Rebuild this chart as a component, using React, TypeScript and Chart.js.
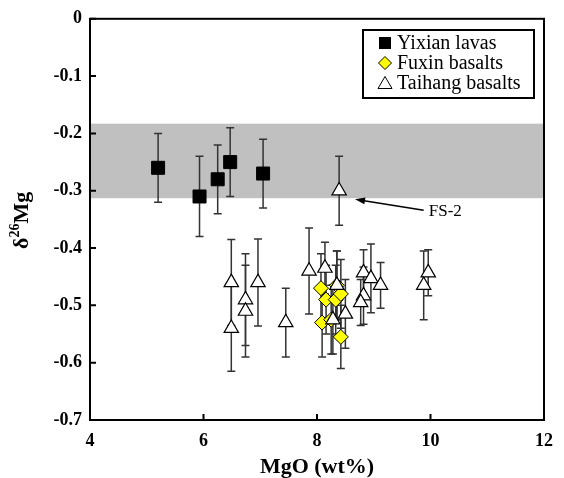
import React, { useEffect, useRef } from 'react';
import { Chart, registerables } from 'chart.js';

Chart.register(...registerables);

// ---- Data ----
const yixianMgO = [5.2, 5.93, 6.25, 6.47, 7.05];
const yixianD26Mg = [-0.26, -0.31, -0.28, -0.25, -0.27];
const yixianErr = [0.06, 0.07, 0.06, 0.06, 0.06];

const fuxinMgO = [8.07, 8.16, 8.33, 8.35, 8.42, 8.09, 8.25, 8.42];
const fuxinD26Mg = [-0.47, -0.49, -0.49, -0.465, -0.48, -0.53, -0.525, -0.555];
const fuxinErr = [0.06, 0.06, 0.06, 0.06, 0.06, 0.06, 0.06, 0.055];

const taihangMgO = [6.49, 6.49, 6.74, 6.74, 6.96, 7.45, 7.86, 8.14, 8.35, 8.28, 8.5, 8.82, 8.95, 9.12, 8.82, 8.77, 9.96, 9.88, 8.39];
const taihangD26Mg = [-0.46, -0.54, -0.49, -0.51, -0.46, -0.53, -0.44, -0.435, -0.465, -0.525, -0.515, -0.443, -0.453, -0.465, -0.483, -0.495, -0.443, -0.465, -0.3];
const taihangErr = [0.075, 0.075, 0.08, 0.08, 0.076, 0.06, 0.075, 0.045, 0.06, 0.06, 0.06, 0.04, 0.06, 0.04, 0.05, 0.04, 0.04, 0.06, 0.06];

const seriesLabels = ['Yixian lavas', 'Fuxin basalts', 'Taihang basalts'];
const xTicks = [4, 6, 8, 10, 12];
const yTicks = [0, -0.1, -0.2, -0.3, -0.4, -0.5, -0.6, -0.7];
const mantleBand = [-0.313, -0.183];
const fs2Label = 'FS-2';
const fs2ArrowTip = [8.67, -0.315];
const fs2ArrowTail = [9.88, -0.334];
const fs2TextPos = [9.97, -0.337];

const SERIF = '"Liberation Serif", "Times New Roman", serif';

function pts(xs: number[], ys: number[]) {
  return xs.map((x, i) => ({ x, y: ys[i] }));
}

const errs = [yixianErr, fuxinErr, taihangErr];

const customPlugin = {
  id: 'custom',
  beforeDatasetsDraw(chart: any) {
    const { ctx, chartArea, scales } = chart;
    const xs = scales.x, ys = scales.y;
    ctx.save();
    const yTop = ys.getPixelForValue(mantleBand[1]);
    const yBot = ys.getPixelForValue(mantleBand[0]);
    ctx.fillStyle = '#c0c0c0';
    ctx.fillRect(chartArea.left, yTop, chartArea.right - chartArea.left, yBot - yTop);
    ctx.strokeStyle = '#333333';
    ctx.lineWidth = 1.5;
    chart.data.datasets.forEach((ds: any, di: number) => {
      ds.data.forEach((p: any, i: number) => {
        const e = errs[di][i];
        const px = xs.getPixelForValue(p.x);
        const p1 = ys.getPixelForValue(p.y + e);
        const p2 = ys.getPixelForValue(p.y - e);
        ctx.beginPath();
        ctx.moveTo(px, p1);
        ctx.lineTo(px, p2);
        ctx.moveTo(px - 4, p1);
        ctx.lineTo(px + 4, p1);
        ctx.moveTo(px - 4, p2);
        ctx.lineTo(px + 4, p2);
        ctx.stroke();
      });
    });
    ctx.restore();
  },
  afterDraw(chart: any) {
    const { ctx, chartArea, scales } = chart;
    const xs = scales.x, ys = scales.y;
    const { left, right, top, bottom } = chartArea;
    ctx.save();
    ctx.strokeStyle = '#000';
    ctx.lineWidth = 2;
    ctx.strokeRect(left, top, right - left, bottom - top);
    ctx.beginPath();
    yTicks.forEach((v) => {
      const py = ys.getPixelForValue(v);
      ctx.moveTo(left, py);
      ctx.lineTo(left + 6, py);
    });
    xTicks.forEach((v) => {
      const px = xs.getPixelForValue(v);
      ctx.moveTo(px, bottom);
      ctx.lineTo(px, bottom - 6);
    });
    ctx.stroke();

    // arrow + label
    const tx = xs.getPixelForValue(fs2ArrowTip[0]);
    const ty = ys.getPixelForValue(fs2ArrowTip[1]);
    const sx = xs.getPixelForValue(fs2ArrowTail[0]);
    const sy = ys.getPixelForValue(fs2ArrowTail[1]);
    const ang = Math.atan2(ty - sy, tx - sx);
    ctx.lineWidth = 1.5;
    ctx.beginPath();
    ctx.moveTo(sx, sy);
    ctx.lineTo(tx - Math.cos(ang) * 6, ty - Math.sin(ang) * 6);
    ctx.stroke();
    ctx.fillStyle = '#000';
    ctx.beginPath();
    ctx.moveTo(tx, ty);
    ctx.lineTo(tx - Math.cos(ang) * 10 - Math.sin(ang) * 3.5, ty - Math.sin(ang) * 10 + Math.cos(ang) * 3.5);
    ctx.lineTo(tx - Math.cos(ang) * 10 + Math.sin(ang) * 3.5, ty - Math.sin(ang) * 10 - Math.cos(ang) * 3.5);
    ctx.closePath();
    ctx.fill();
    ctx.font = `17px ${SERIF}`;
    ctx.textAlign = 'left';
    ctx.textBaseline = 'middle';
    ctx.fillText(fs2Label, xs.getPixelForValue(fs2TextPos[0]), ys.getPixelForValue(fs2TextPos[1]));

    // legend
    const lx = 363, ly = 30, lw = 171, lh = 68;
    ctx.fillStyle = '#fff';
    ctx.fillRect(lx, ly, lw, lh);
    ctx.lineWidth = 2;
    ctx.strokeStyle = '#000';
    ctx.strokeRect(lx, ly, lw, lh);
    const rows = [43, 63, 83];
    const mx = 385;
    ctx.fillStyle = '#000';
    ctx.fillRect(mx - 6, rows[0] - 6, 12, 12);
    ctx.beginPath();
    ctx.moveTo(mx - 6.5, rows[1]);
    ctx.lineTo(mx, rows[1] - 6.5);
    ctx.lineTo(mx + 6.5, rows[1]);
    ctx.lineTo(mx, rows[1] + 6.5);
    ctx.closePath();
    ctx.fillStyle = '#ffff00';
    ctx.fill();
    ctx.lineWidth = 1;
    ctx.strokeStyle = '#000';
    ctx.stroke();
    ctx.beginPath();
    ctx.moveTo(mx, rows[2] - 6.5);
    ctx.lineTo(mx + 7, rows[2] + 5.5);
    ctx.lineTo(mx - 7, rows[2] + 5.5);
    ctx.closePath();
    ctx.fillStyle = '#fff';
    ctx.fill();
    ctx.stroke();
    ctx.fillStyle = '#000';
    ctx.font = `20px ${SERIF}`;
    ctx.textAlign = 'left';
    ctx.textBaseline = 'middle';
    seriesLabels.forEach((t, i) => ctx.fillText(t, 397, rows[i] + 1));

    // x title
    ctx.font = `bold 22px ${SERIF}`;
    ctx.textAlign = 'center';
    ctx.textBaseline = 'middle';
    ctx.fillText('MgO (wt%)', (left + right) / 2, 467);

    // y title with superscript
    ctx.translate(21, (top + bottom) / 2 + 1);
    ctx.rotate(-Math.PI / 2);
    const big = `bold 22px ${SERIF}`;
    const small = `bold 14px ${SERIF}`;
    ctx.font = big;
    const w1 = ctx.measureText('δ').width;
    const w3 = ctx.measureText('Mg').width;
    ctx.font = small;
    const w2 = ctx.measureText('26').width;
    let cx = -(w1 + w2 + w3) / 2;
    ctx.textAlign = 'left';
    ctx.textBaseline = 'alphabetic';
    const base = 7;
    ctx.font = big;
    ctx.fillText('δ', cx, base);
    cx += w1;
    ctx.font = small;
    ctx.fillText('26', cx, base - 9);
    cx += w2;
    ctx.font = big;
    ctx.fillText('Mg', cx, base);
    ctx.restore();
  },
};

export default function App() {
  const ref = useRef<HTMLCanvasElement | null>(null);
  useEffect(() => {
    document.body.style.margin = '0';
    const canvas = ref.current!;
    const chart = new Chart(canvas, {
      type: 'scatter',
      data: {
        datasets: [
          {
            label: seriesLabels[0],
            data: pts(yixianMgO, yixianD26Mg),
            pointStyle: 'rect',
            pointRadius: 9.2,
            backgroundColor: '#000',
            borderColor: '#000',
            borderWidth: 1,
            order: 3,
          },
          {
            label: seriesLabels[1],
            data: pts(fuxinMgO, fuxinD26Mg),
            pointStyle: 'rectRot',
            pointRadius: 7.5,
            backgroundColor: '#ffff00',
            borderColor: '#000',
            borderWidth: 1,
            order: 2,
          },
          {
            label: seriesLabels[2],
            data: pts(taihangMgO, taihangD26Mg),
            pointStyle: 'triangle',
            pointRadius: 8.3,
            backgroundColor: '#fff',
            borderColor: '#000',
            borderWidth: 1.2,
            order: 1,
          },
        ],
      },
      options: {
        responsive: false,
        animation: false,
        devicePixelRatio: 1,
        layout: { padding: { top: 18, right: 18, left: 0, bottom: 0 } },
        plugins: { legend: { display: false }, tooltip: { enabled: false } },
        scales: {
          x: {
            type: 'linear',
            min: 4,
            max: 12,
            afterFit: (s: any) => { s.height = 58; },
            afterBuildTicks: (s: any) => { s.ticks = xTicks.map((v) => ({ value: v })); },
            grid: { display: false, drawTicks: false },
            border: { display: false },
            ticks: {
              padding: 11,
              color: '#000',
              font: { family: SERIF, size: 18, weight: 'bold' },
              callback: (v: any) => String(v),
            },
          },
          y: {
            type: 'linear',
            min: -0.7,
            max: 0,
            afterFit: (s: any) => { s.width = 90; },
            afterBuildTicks: (s: any) => { s.ticks = yTicks.map((v) => ({ value: v })); },
            grid: { display: false, drawTicks: false },
            border: { display: false },
            ticks: {
              padding: 8,
              color: '#000',
              font: { family: SERIF, size: 18, weight: 'bold' },
              callback: (v: any) => (Math.abs(v) < 1e-9 ? '0' : Number(v).toFixed(1)),
            },
          },
        },
      },
      plugins: [customPlugin],
    } as any);
    return () => chart.destroy();
  }, []);
  return (
    <div style={{ position: 'absolute', left: 0, top: 0, width: 564, height: 478 }}>
      <canvas ref={ref} width={564} height={478} style={{ width: 564, height: 478 }} />
    </div>
  );
}
